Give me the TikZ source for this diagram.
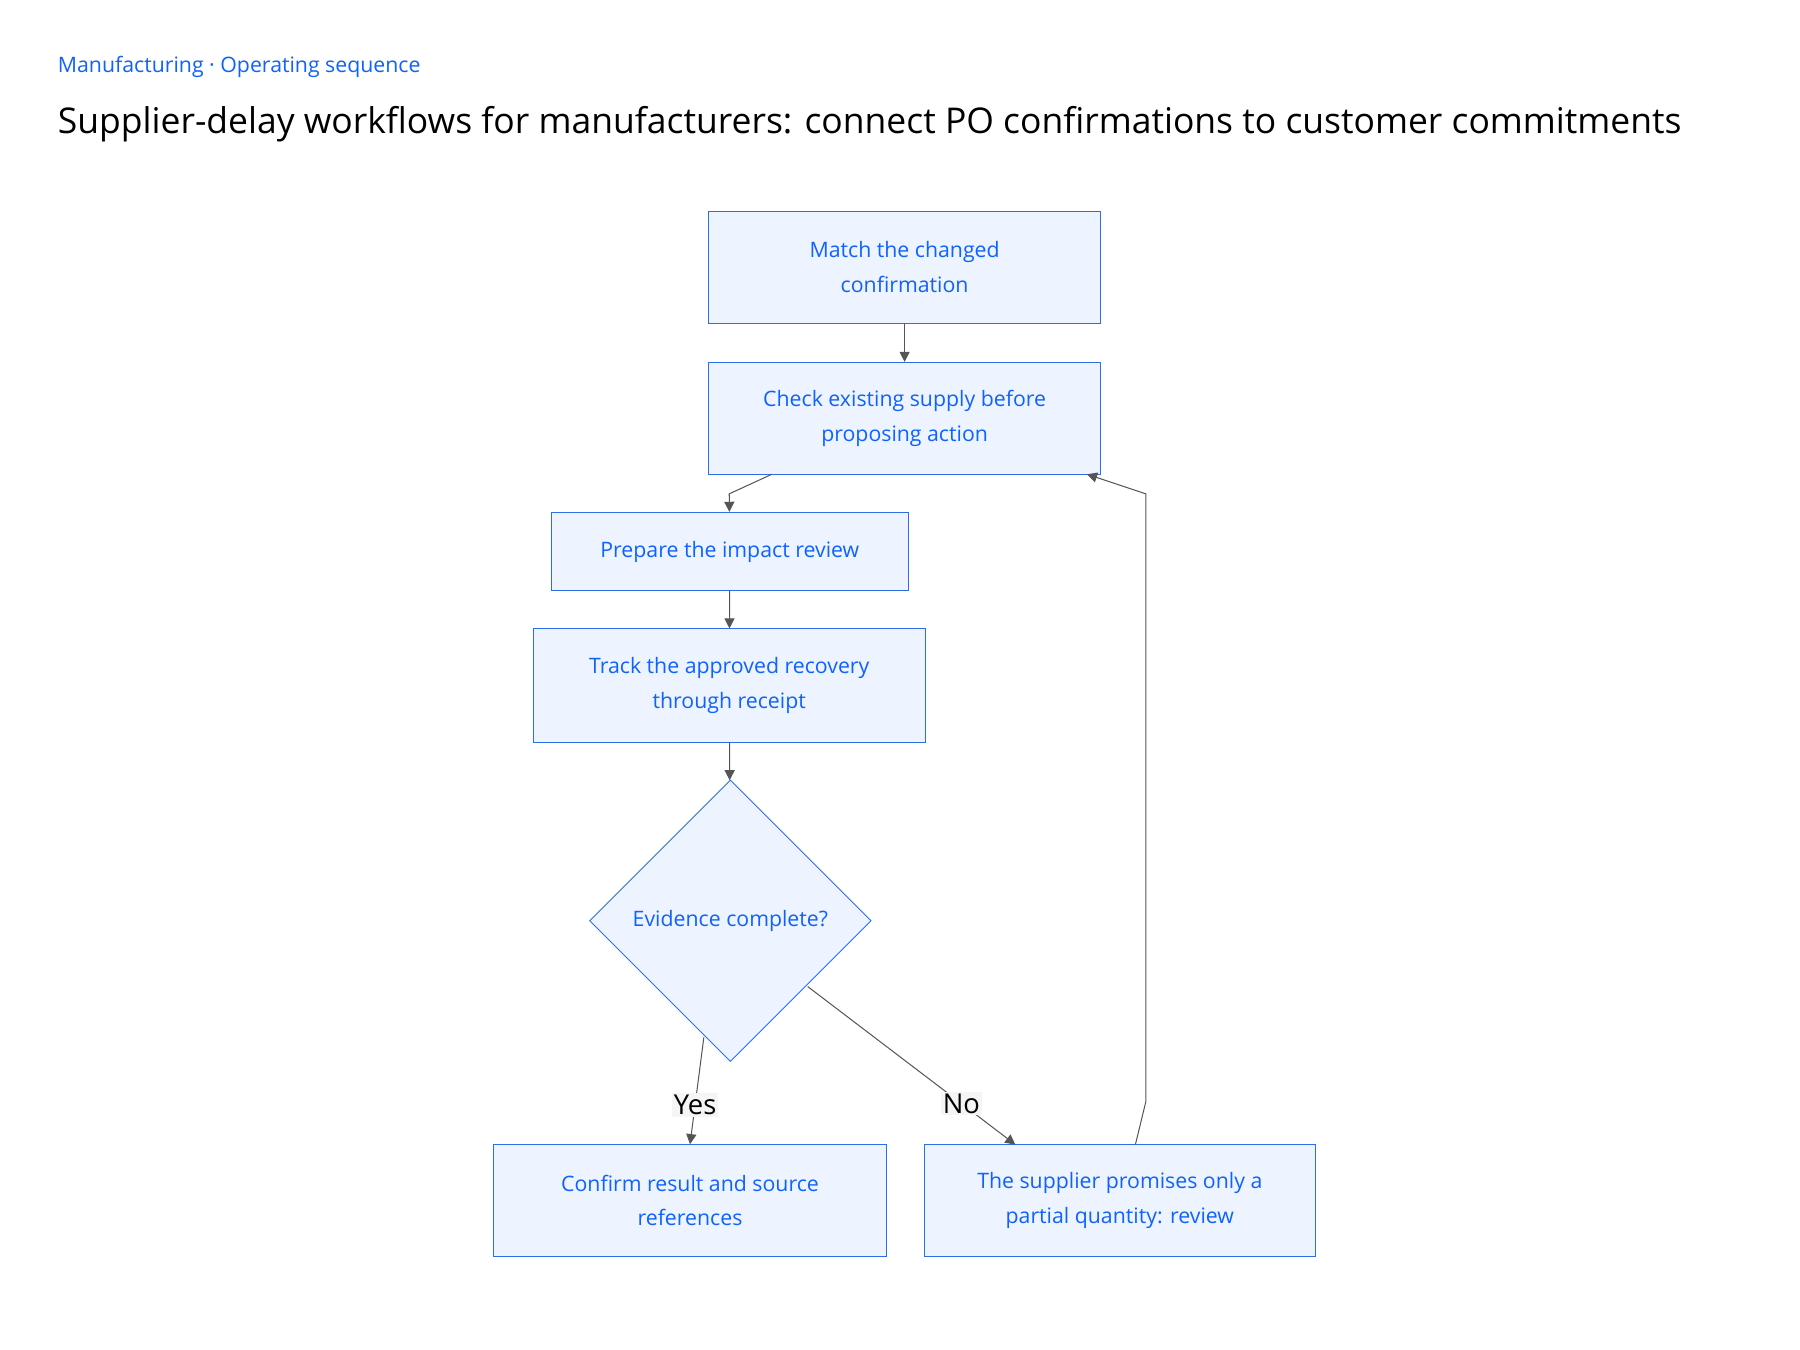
\documentclass[tikz,border=0pt]{standalone}
\usepackage{fontspec}
\setmainfont{Open Sans}
\usetikzlibrary{shapes.geometric,arrows.meta}
\definecolor{ibmblue}{HTML}{0F62FE}
\definecolor{boxfill}{HTML}{EDF4FF}
\definecolor{boxline}{HTML}{2B6FE6}
\definecolor{edgegray}{HTML}{555555}
\begin{document}
\begin{tikzpicture}[x=0.02cm, y=-0.02cm,
  stepbox/.style={rectangle, draw=boxline, fill=boxfill, text=ibmblue, align=center, font=\fontsize{10.5}{17}\selectfont, inner sep=0pt},
  decision/.style={diamond, draw=boxline, fill=boxfill, text=ibmblue, font=\fontsize{10.5}{17}\selectfont, inner sep=0pt, minimum width=244*0.02cm, minimum height=244*0.02cm},
  link/.style={draw=edgegray, line width=0.5pt, -{Triangle[length=5pt,width=5pt]}},
  edgelabel/.style={fill=black!4, text=black, font=\fontsize{13.5}{16}\selectfont, inner sep=1pt}]
  \useasboundingbox (0,0) rectangle (1560,1170);
  \node[anchor=west, text=ibmblue, font=\fontsize{10.5}{13}\selectfont] (kicker) at (44,58) {Manufacturing · Operating sequence};
  \node[anchor=west, font=\fontsize{17.5}{21}\selectfont] (title) at (44,108) {Supplier-delay workflows for manufacturers: connect PO confirmations to customer commitments};

  \node[stepbox, minimum width=340*0.02cm, minimum height=97*0.02cm] (match) at (784,231.5) {Match the changed\\confirmation};
  \node[stepbox, minimum width=340*0.02cm, minimum height=97*0.02cm] (check) at (784,362.5) {Check existing supply before\\proposing action};
  \node[stepbox, minimum width=309*0.02cm, minimum height=68*0.02cm] (prepare) at (632.5,478) {Prepare the impact review};
  \node[stepbox, minimum width=340*0.02cm, minimum height=98*0.02cm] (track) at (632,594) {Track the approved recovery\\through receipt};
  \node[decision] (evidence) at (633,798) {Evidence complete?};
  \node[stepbox, minimum width=340*0.02cm, minimum height=97*0.02cm] (confirm) at (598,1040.5) {Confirm result and source\\references};
  \node[stepbox, minimum width=339*0.02cm, minimum height=97*0.02cm] (partial) at (970.5,1040.5) {The supplier promises only a\\partial quantity: review};

  \coordinate (bend1) at (632,428);
  \coordinate (up1) at (993,955);
  \coordinate (up2) at (993,428);

  \draw[link] (match) -- (check);
  \draw[link] (669,411) -- (bend1) -- (prepare);
  \draw[link] (prepare) -- (track);
  \draw[link] (track) -- (evidence);
  \draw[link] (610,899) -- node[edgelabel, pos=0.63] {Yes} (confirm.north);
  \draw[link] (700,855) -- node[edgelabel, pos=0.74] {No} (880,992);
  \draw[link] (984,992) -- (up1) -- (up2) -- (942,411);
\end{tikzpicture}
\end{document}
